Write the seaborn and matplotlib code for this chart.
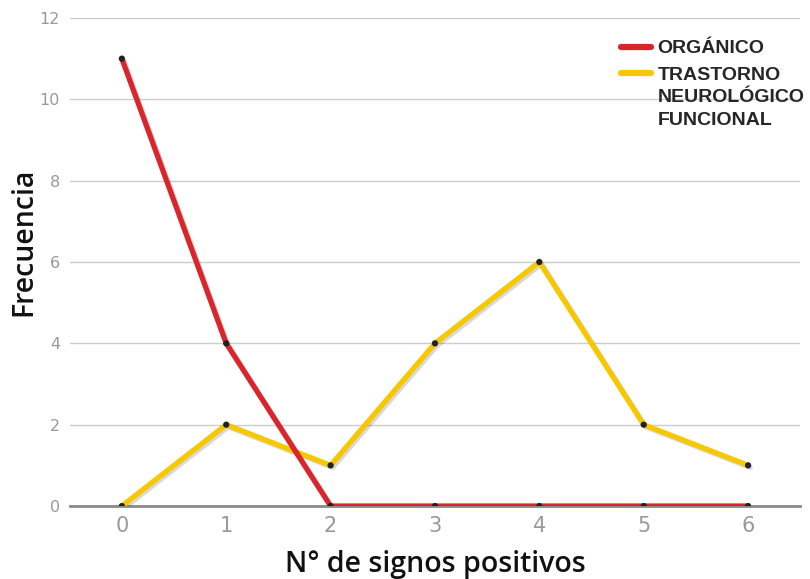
from matplotlib import pyplot as plt
from matplotlib import patheffects as pe
from matplotlib.lines import Line2D
import seaborn as sns
import pandas as pd

# Data
signos = [0, 1, 2, 3, 4, 5, 6]
organico = [11, 4, 0, 0, 0, 0, 0]
funcional = [0, 2, 1, 4, 6, 2, 1]

lab_org = 'ORGÁNICO'
lab_fun = 'TRASTORNO\nNEUROLÓGICO\nFUNCIONAL'
colors = {lab_org: '#d9252c', lab_fun: '#f7c800'}


def main():
    df = pd.DataFrame({
        'signos': signos * 2,
        'frecuencia': funcional + organico,
        'grupo': [lab_fun] * len(signos) + [lab_org] * len(signos),
    })

    sns.set_style('white')
    plt.rcParams['font.family'] = ['DejaVu Sans']

    fig = plt.figure(figsize=(8.1, 5.79), dpi=100)
    ax = fig.add_axes([0.086, 0.126, 0.902, 0.843])

    sns.lineplot(data=df, x='signos', y='frecuencia', hue='grupo',
                 hue_order=[lab_fun, lab_org], palette=colors,
                 linewidth=3.8, marker='o', markersize=4.5,
                 markerfacecolor='#222222', markeredgewidth=0,
                 legend=False, ax=ax, zorder=3)
    for line in ax.get_lines():
        line.set_path_effects([pe.SimpleLineShadow(offset=(1.5, -1.5), alpha=0.15),
                               pe.Normal()])

    ax.set_xlim(-0.5, 6.5)
    ax.set_ylim(0, 12)
    ax.set_yticks(range(0, 13, 2))
    ax.set_xticks(signos)
    ax.yaxis.grid(True, color='#cccccc', linewidth=1)
    ax.set_axisbelow(True)
    for side in ['top', 'right', 'left']:
        ax.spines[side].set_visible(False)
    ax.spines['bottom'].set_color('#8a8a8a')
    ax.spines['bottom'].set_linewidth(2)
    ax.spines['bottom'].set_zorder(1)
    ax.tick_params(axis='y', length=0, labelsize=11.5, labelcolor='#999999', pad=7)
    ax.tick_params(axis='x', length=0, labelsize=15, labelcolor='#999999', pad=7)

    label_font = {'family': 'Open Sans', 'weight': 600, 'size': 20.5, 'color': '#111111'}
    ax.set_xlabel('N° de signos positivos', fontdict=label_font, labelpad=10)
    ax.set_ylabel('Frecuencia', fontdict=label_font)
    ax.yaxis.set_label_coords(-0.043, 0.541)

    handles = [Line2D([0], [0], color=colors[lab_org], linewidth=4.5),
               Line2D([0], [0], color=colors[lab_fun], linewidth=4.5)]
    leg = ax.legend(handles, [lab_org, lab_fun], loc='upper left',
                    bbox_to_anchor=(0.755, 0.955), frameon=False,
                    prop={'family': 'Liberation Sans', 'weight': 'bold', 'size': 14},
                    handlelength=1.55, handletextpad=0.3, labelspacing=0.5,
                    borderaxespad=0, borderpad=0)
    for t in leg.get_texts():
        t.set_linespacing(1.45)
    # keep each legend handle level with the first line of its label
    for col in leg._legend_handle_box.get_children():
        for row in col.get_children():
            row.align = 'top'

    plt.savefig('out.png', dpi=100)
    plt.clf()


if __name__ == "__main__":
    main()
